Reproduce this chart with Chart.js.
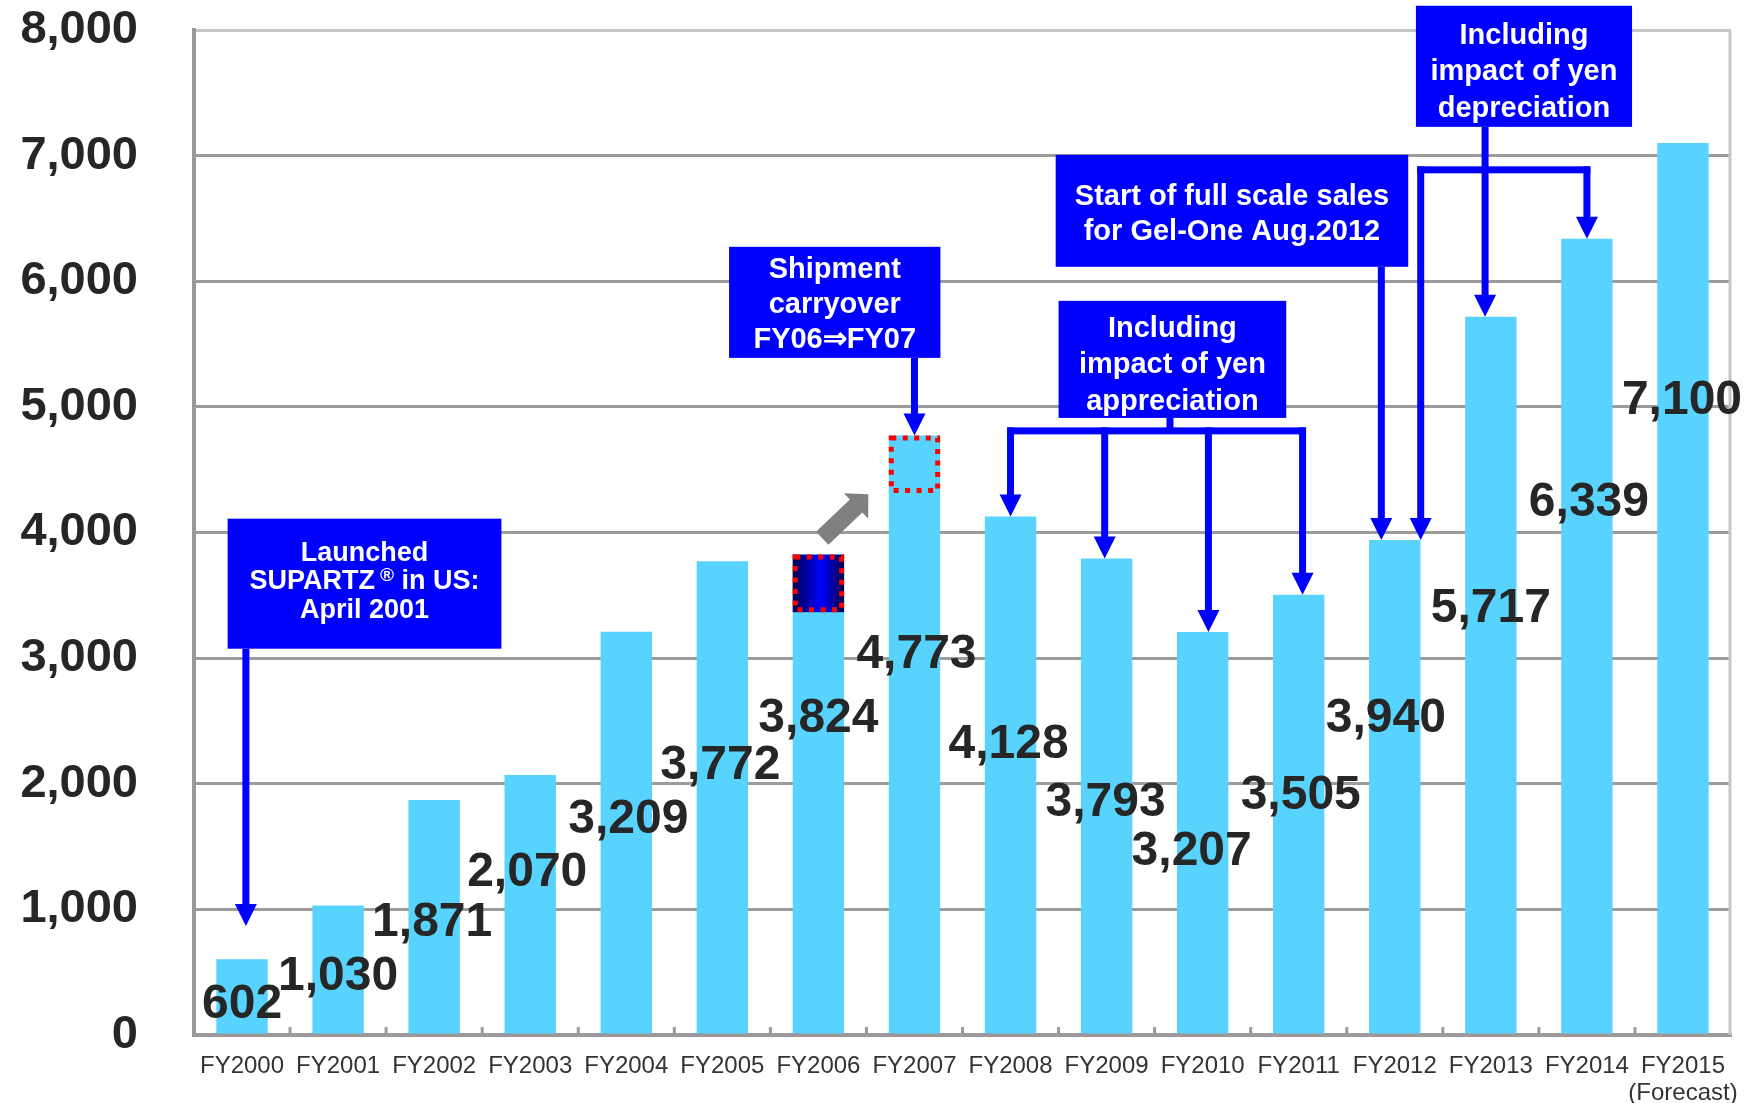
<!DOCTYPE html>
<html>
<head>
<meta charset="utf-8">
<script src="https://cdn.jsdelivr.net/npm/chart.js@4.4.1/dist/chart.umd.min.js"></script>
<style>
  html, body { margin: 0; padding: 0; background: #fff; }
  canvas { display: block; }
</style>
</head>
<body>
<canvas id="salesChart" width="1751" height="1103"></canvas>
<script>
// sales by fiscal year
const years = ['FY2000', 'FY2001', 'FY2002', 'FY2003', 'FY2004', 'FY2005', 'FY2006', 'FY2007',
    'FY2008', 'FY2009', 'FY2010', 'FY2011', 'FY2012', 'FY2013', 'FY2014', ['FY2015', '(Forecast)']];
const sales = [602, 1030, 1871, 2070, 3209, 3772, 3824, 4773, 4128, 3793, 3207, 3505, 3940, 5717, 6339, 7100];
const yTicks = [0, 1000, 2000, 3000, 4000, 5000, 6000, 7000, 8000];
// shipments moved from FY06 into FY07
const carryover = 458;

// where each value label sits: px below the bar top, px sideways
const labelDrop = [45, 71, 123, 98, 188, 205, 164, 219, 228, 244, 220, 201, 179, 292, 264, 258];
const labelNudge = [0, 0, -2, -3, 2, -2, 0, 2, -2, -1, -11, 2, -9, 0, 2, -1];

const BLUE = '#0000ff';
const FONT = "'Liberation Sans', Arial, sans-serif";

// callout boxes, x in category units, y in sales units, dy nudges the text block
const callouts = [
    { lines: ['Launched', 'SUPARTZ\u00AE in US:', 'April 2001'], x: [-0.15, 2.7], y: [4110, 3075], size: 27, step: 28.5, dy: -2 },
    { lines: ['Shipment', 'carryover', 'FY06\u21D2FY07'], x: [5.07, 7.27], y: [6274, 5390], size: 29, step: 35, dy: 3 },
    { lines: ['Start of full scale sales', 'for Gel-One Aug.2012'], x: [8.47, 12.14], y: [7006, 6115], size: 29, step: 35, dy: 4 },
    { lines: ['Including', 'impact of yen', 'appreciation'], x: [8.5, 10.87], y: [5844, 4912], size: 29, step: 36.5, dy: 6 },
    { lines: ['Including', 'impact of yen', 'depreciation'], x: [12.22, 14.47], y: [8193, 7229], size: 29, step: 36.5, dy: 6 }
];

// straight pointers: bar = index of the bar the tip lands on
const pointers = [
    { x: 0.04, from: 3075, to: 868 },
    { x: 7, from: 5390, bar: 7 },
    { x: 11.86, from: 6115, bar: 12 },
    { x: 12.94, from: 7229, bar: 13 }
];

// forked pointers
const brackets = [
    { stemX: 9.66, from: 4912, level: 4809, legs: [[8, 8], [8.98, 9], [10.06, 10], [11.04, 11]] },
    { level: 6887, legs: [[12.27, 12], [14, 14]] }
];

function downArrow(ctx, x, y0, y1) {
    ctx.fillStyle = BLUE;
    ctx.fillRect(x - 3.5, y0, 7, y1 - y0 - 20);
    ctx.beginPath();
    ctx.moveTo(x - 11, y1 - 22);
    ctx.lineTo(x + 11, y1 - 22);
    ctx.lineTo(x, y1);
    ctx.closePath();
    ctx.fill();
}

function dottedRect(ctx, x, y, w, h) {
    ctx.save();
    ctx.strokeStyle = '#ff0000';
    ctx.lineWidth = 5;
    ctx.setLineDash([5, 6.5]);
    ctx.strokeRect(x, y, w, h);
    ctx.restore();
}

// centred line of box text, with a small raised ® when present
function boxLine(ctx, text, cx, cy, size) {
    const big = 'bold ' + size + 'px ' + FONT;
    const small = 'bold ' + Math.round(size * 0.72) + 'px ' + FONT;
    const parts = text.split('\u00AE');
    if (parts.length === 1) {
        ctx.font = big;
        ctx.textAlign = 'center';
        ctx.fillText(text, cx, cy);
        return;
    }
    const gap = size * 0.18;
    ctx.font = big;
    const w0 = ctx.measureText(parts[0]).width;
    const w2 = ctx.measureText(parts[1]).width;
    ctx.font = small;
    const w1 = ctx.measureText('\u00AE').width;
    let left = cx - (w0 + gap + w1 + w2) / 2;
    ctx.textAlign = 'left';
    ctx.font = big;
    ctx.fillText(parts[0], left, cy);
    left += w0 + gap;
    ctx.font = small;
    ctx.fillText('\u00AE', left, cy - size * 0.22);
    left += w1;
    ctx.font = big;
    ctx.fillText(parts[1], left, cy);
    ctx.textAlign = 'center';
}

const frame = {
    id: 'frame',
    beforeDatasetsDraw(chart) {
        const { ctx, chartArea: a, scales: { x } } = chart;
        ctx.save();
        // light right border
        ctx.strokeStyle = '#c6c6c6';
        ctx.lineWidth = 3;
        ctx.beginPath();
        ctx.moveTo(a.right - 1, a.top);
        ctx.lineTo(a.right - 1, a.bottom);
        ctx.stroke();
        // small ticks between categories
        ctx.strokeStyle = '#999';
        ctx.lineWidth = 3;
        for (let i = 1; i < years.length; i++) {
            const tx = x.getPixelForValue(i - 0.5);
            ctx.beginPath();
            ctx.moveTo(tx, a.bottom);
            ctx.lineTo(tx, a.bottom - 8);
            ctx.stroke();
        }
        ctx.restore();
    }
};

const notes = {
    id: 'notes',
    afterDatasetsDraw(chart) {
        const { ctx, scales: { x, y } } = chart;
        const bars = chart.getDatasetMeta(0).data;
        ctx.save();

        // FY06 portion shipped in FY07
        const b6 = bars[6], b7 = bars[7];
        const h6 = y.getPixelForValue(sales[6] - carryover) - b6.y;
        const g = ctx.createLinearGradient(b6.x - b6.width / 2, 0, b6.x + b6.width / 2, 0);
        g.addColorStop(0, '#00004a');
        g.addColorStop(0.55, '#0000ff');
        g.addColorStop(1, '#00004a');
        ctx.fillStyle = g;
        ctx.fillRect(b6.x - b6.width / 2, b6.y, b6.width, h6);
        dottedRect(ctx, b6.x - b6.width / 2 + 2.5, b6.y + 2.5, b6.width - 5, h6 - 5);
        const h7 = y.getPixelForValue(sales[7] - carryover) - b7.y;
        dottedRect(ctx, b7.x - b7.width / 2 + 2.5, b7.y + 2.5, b7.width - 5, h7 - 5);

        // grey move arrow
        const tx0 = x.getPixelForValue(6.04), ty0 = y.getPixelForValue(3954);
        const tx1 = x.getPixelForValue(6.52), ty1 = y.getPixelForValue(4305);
        const ang = Math.atan2(ty1 - ty0, tx1 - tx0);
        const len = Math.hypot(tx1 - tx0, ty1 - ty0);
        ctx.save();
        ctx.translate(tx0, ty0);
        ctx.rotate(ang);
        ctx.fillStyle = '#808080';
        ctx.beginPath();
        ctx.moveTo(0, -9);
        ctx.lineTo(len - 17, -9);
        ctx.lineTo(len - 17, -17.5);
        ctx.lineTo(len, 0);
        ctx.lineTo(len - 17, 17.5);
        ctx.lineTo(len - 17, 9);
        ctx.lineTo(0, 9);
        ctx.closePath();
        ctx.fill();
        ctx.restore();

        // value labels
        ctx.fillStyle = '#262626';
        ctx.font = 'bold 48px ' + FONT;
        ctx.textAlign = 'center';
        ctx.textBaseline = 'middle';
        bars.forEach((bar, i) => {
            ctx.fillText(sales[i].toLocaleString('en-US'), bar.x + labelNudge[i], bar.y + labelDrop[i]);
        });

        // pointers
        pointers.forEach(p => {
            const tip = p.bar !== undefined ? bars[p.bar].y : y.getPixelForValue(p.to);
            downArrow(ctx, x.getPixelForValue(p.x), y.getPixelForValue(p.from), tip);
        });
        brackets.forEach(b => {
            const ly = y.getPixelForValue(b.level);
            const xs = b.legs.map(l => x.getPixelForValue(l[0]));
            ctx.fillStyle = BLUE;
            ctx.fillRect(Math.min(...xs) - 3.5, ly - 3.5, Math.max(...xs) - Math.min(...xs) + 7, 7);
            if (b.stemX !== undefined) {
                const sx = x.getPixelForValue(b.stemX);
                const sy = y.getPixelForValue(b.from);
                ctx.fillRect(sx - 3.5, sy, 7, ly - sy);
            }
            b.legs.forEach((l, k) => downArrow(ctx, xs[k], ly - 3.5, bars[l[1]].y));
        });

        // callout boxes
        ctx.textBaseline = 'middle';
        callouts.forEach(c => {
            const x0 = x.getPixelForValue(c.x[0]), x1 = x.getPixelForValue(c.x[1]);
            const y0 = y.getPixelForValue(c.y[0]), y1 = y.getPixelForValue(c.y[1]);
            ctx.fillStyle = BLUE;
            ctx.fillRect(x0, y0, x1 - x0, y1 - y0);
            ctx.fillStyle = '#ffffff';
            const cx = (x0 + x1) / 2, cy = (y0 + y1) / 2 + c.dy;
            c.lines.forEach((t, k) => {
                boxLine(ctx, t, cx, cy + (k - (c.lines.length - 1) / 2) * c.step, c.size);
            });
        });

        ctx.restore();
    }
};

let salesChart = new Chart("salesChart", {
    type: "bar",
    data: {
        labels: years,
        datasets: [{
            data: sales,
            backgroundColor: "#57d3fe",
            categoryPercentage: 1,
            barPercentage: 0.535
        }]
    },
    options: {
        responsive: false,
        animation: false,
        layout: { padding: { left: 20, right: 20, top: 30, bottom: 0 } },
        plugins: {
            legend: { display: false },
            tooltip: { enabled: false }
        },
        scales: {
            x: {
                grid: { display: false },
                border: { color: "#999", width: 4 },
                afterFit: s => { s.height = 68; s.paddingLeft = 0; s.paddingRight = 0; },
                ticks: {
                    color: "#333",
                    font: { family: FONT, size: 24, lineHeight: 1.125 },
                    padding: 10,
                    maxRotation: 0,
                    autoSkip: false
                }
            },
            y: {
                min: 0,
                max: 8000,
                afterBuildTicks: axis => { axis.ticks = yTicks.map(v => ({ value: v })); },
                afterFit: s => { s.width = 174; s.paddingTop = 0; s.paddingBottom = 0; },
                grid: {
                    drawTicks: false,
                    lineWidth: 3,
                    color: c => c.tick && c.tick.value === 8000 ? "#c6c6c6" : "#9c9c9c"
                },
                border: { color: "#999", width: 4 },
                ticks: {
                    color: "#262626",
                    font: { family: FONT, size: 47, weight: "bold", lineHeight: 1.25 },
                    padding: 56,
                    callback: v => v.toLocaleString('en-US')
                }
            }
        }
    },
    plugins: [frame, notes]
});
</script>
</body>
</html>
